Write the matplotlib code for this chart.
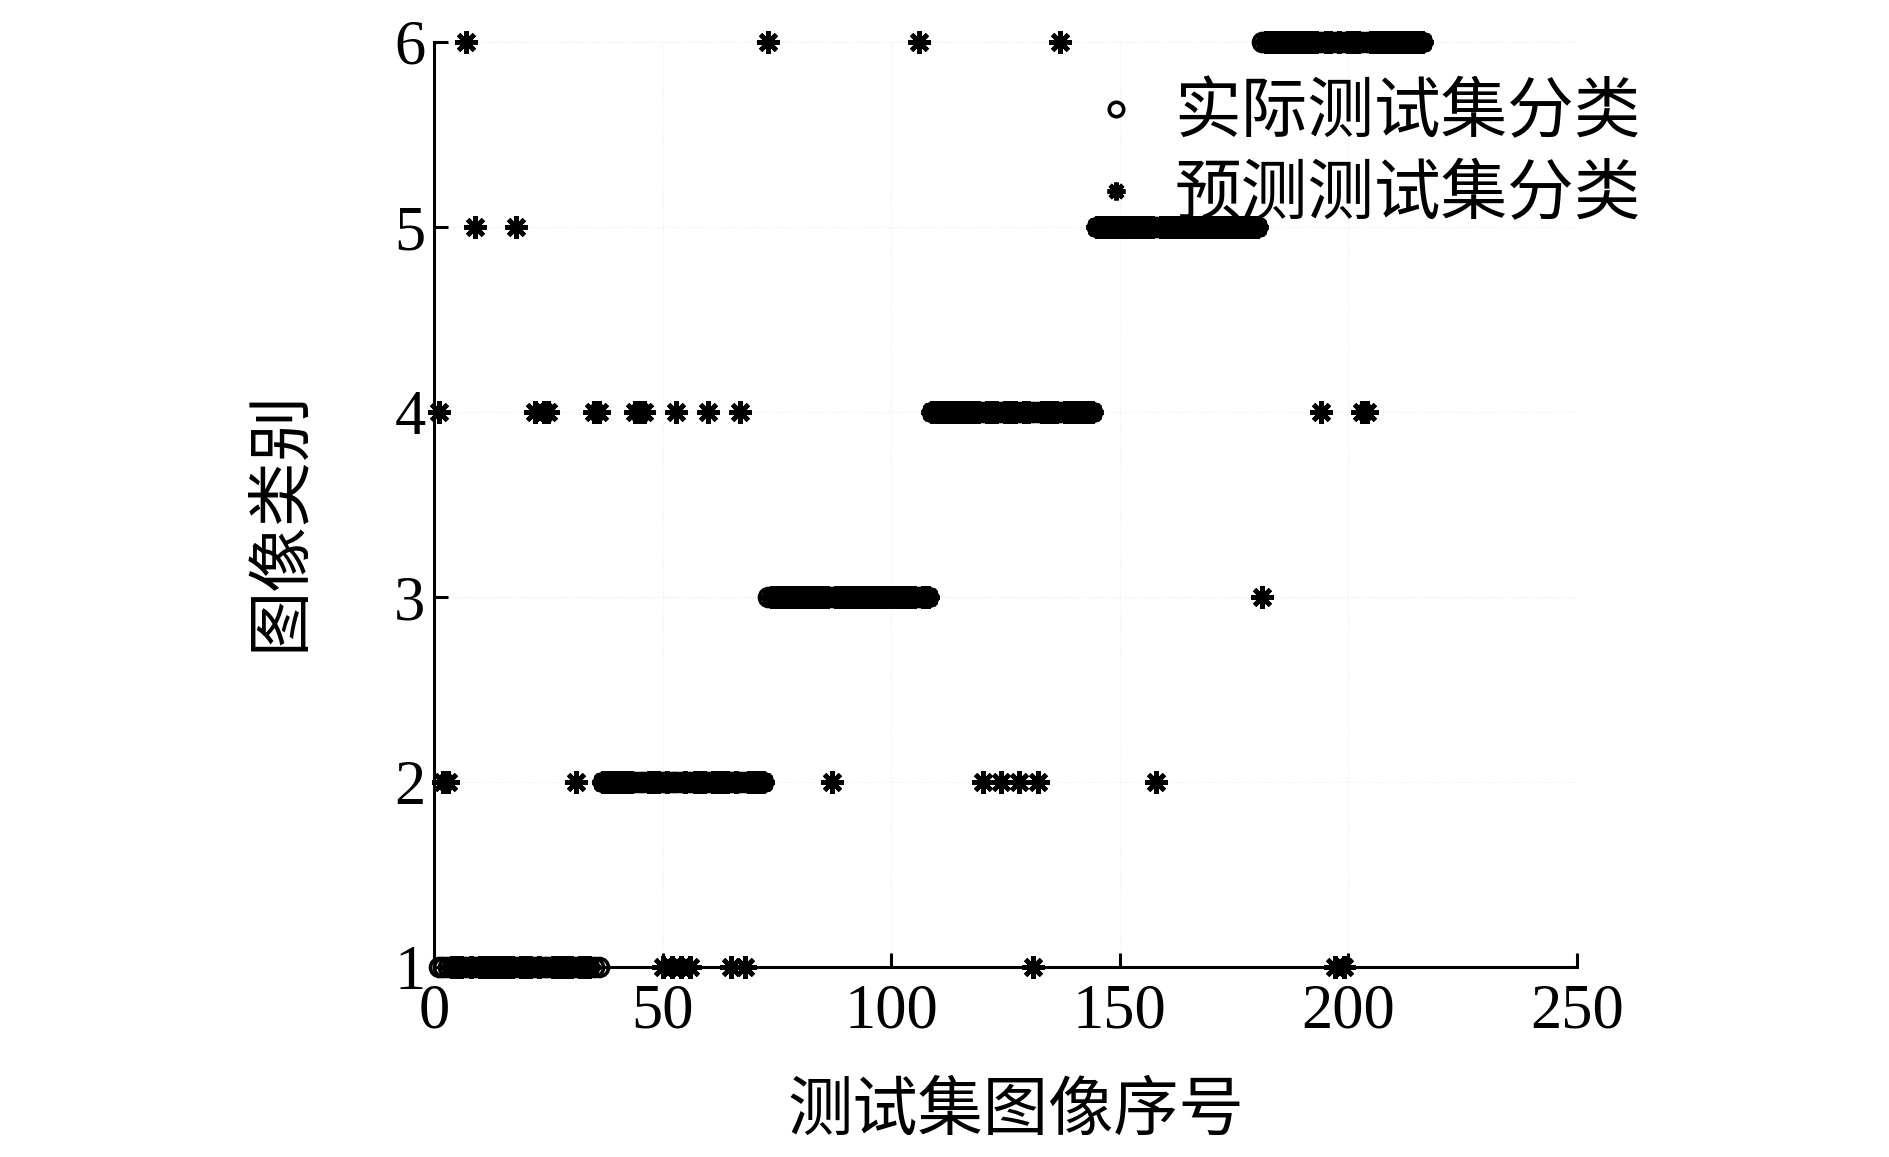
import numpy as np
import matplotlib
matplotlib.use("Agg")
import matplotlib.pyplot as plt

# ---- date ----
# clase reale: 6 clase, cate 36 imagini fiecare (index 1..216)
class_labels = [1, 2, 3, 4, 5, 6]
class_counts = [36, 36, 36, 36, 36, 36]

# imaginile clasificate gresit: index -> clasa prezisa
err_idx  = [1, 2, 3, 7, 9, 18, 22, 24, 25, 31, 35, 36,
            44, 45, 46, 50, 52, 53, 54, 56, 60, 65, 67, 68,
            73, 87, 106, 120, 124, 128, 131, 132, 137, 158,
            181, 194, 197, 199, 203, 204]
err_pred = [4, 2, 2, 6, 5, 5, 4, 4, 4, 2, 4, 4,
            4, 4, 4, 1, 1, 4, 1, 1, 4, 1, 4, 1,
            6, 2, 6, 2, 2, 2, 1, 2, 6, 2,
            3, 4, 1, 1, 4, 4]

actual = np.repeat(class_labels, class_counts)
idx = np.arange(1, len(actual) + 1)
pred = actual.copy()
for i, p in zip(err_idx, err_pred):
    pred[i - 1] = p

# ---- figura ----
plt.rcParams['font.family'] = ['Liberation Serif', 'Noto Sans CJK SC']
cjk = ['Noto Sans CJK SC', 'Liberation Serif']

fig = plt.figure(figsize=(18.9, 11.57), dpi=100)
ax = fig.add_axes([434 / 1890, 1 - 967 / 1157, (1577 - 434) / 1890, (967 - 42) / 1157])

ax.plot(idx, actual, linestyle='none', marker='o', markersize=13,
        markerfacecolor='none', markeredgecolor='black', markeredgewidth=2.6,
        clip_on=False, label='实际测试集分类', zorder=3)
ax.plot(idx, pred, linestyle='none', marker=(8, 2, 0), markersize=16,
        markeredgecolor='black', markeredgewidth=3.4, color='black',
        clip_on=False, label='预测测试集分类', zorder=4)

ax.set_xlim(0, 250)
ax.set_ylim(1, 6)
ax.set_xticks([0, 50, 100, 150, 200, 250])
ax.set_yticks([1, 2, 3, 4, 5, 6])

for s in ['top', 'right']:
    ax.spines[s].set_visible(False)
for s in ['left', 'bottom']:
    ax.spines[s].set_linewidth(2.2)

ax.tick_params(direction='in', length=10, width=2.2, labelsize=45)
ax.tick_params(axis='x', pad=12)
ax.tick_params(axis='y', pad=6)
ax.grid(True, linestyle=':', color='0.92', linewidth=0.8)
ax.set_axisbelow(True)

ax.set_xlabel('测试集图像序号', fontsize=47, family=cjk)
ax.xaxis.set_label_coords(0.509, -0.12)
ax.set_ylabel('图像类别', fontsize=47, family=cjk)
ax.yaxis.set_label_coords(-0.106, 0.483)

leg = fig.legend(loc='upper left', bbox_to_anchor=(1063 / 1890, 1 - 53 / 1157),
                 frameon=False, prop={'family': cjk, 'size': 48},
                 handlelength=0.8, handletextpad=0.47, labelspacing=0.22,
                 borderaxespad=0, markerscale=0.8)

plt.savefig('out.png', dpi=100)
